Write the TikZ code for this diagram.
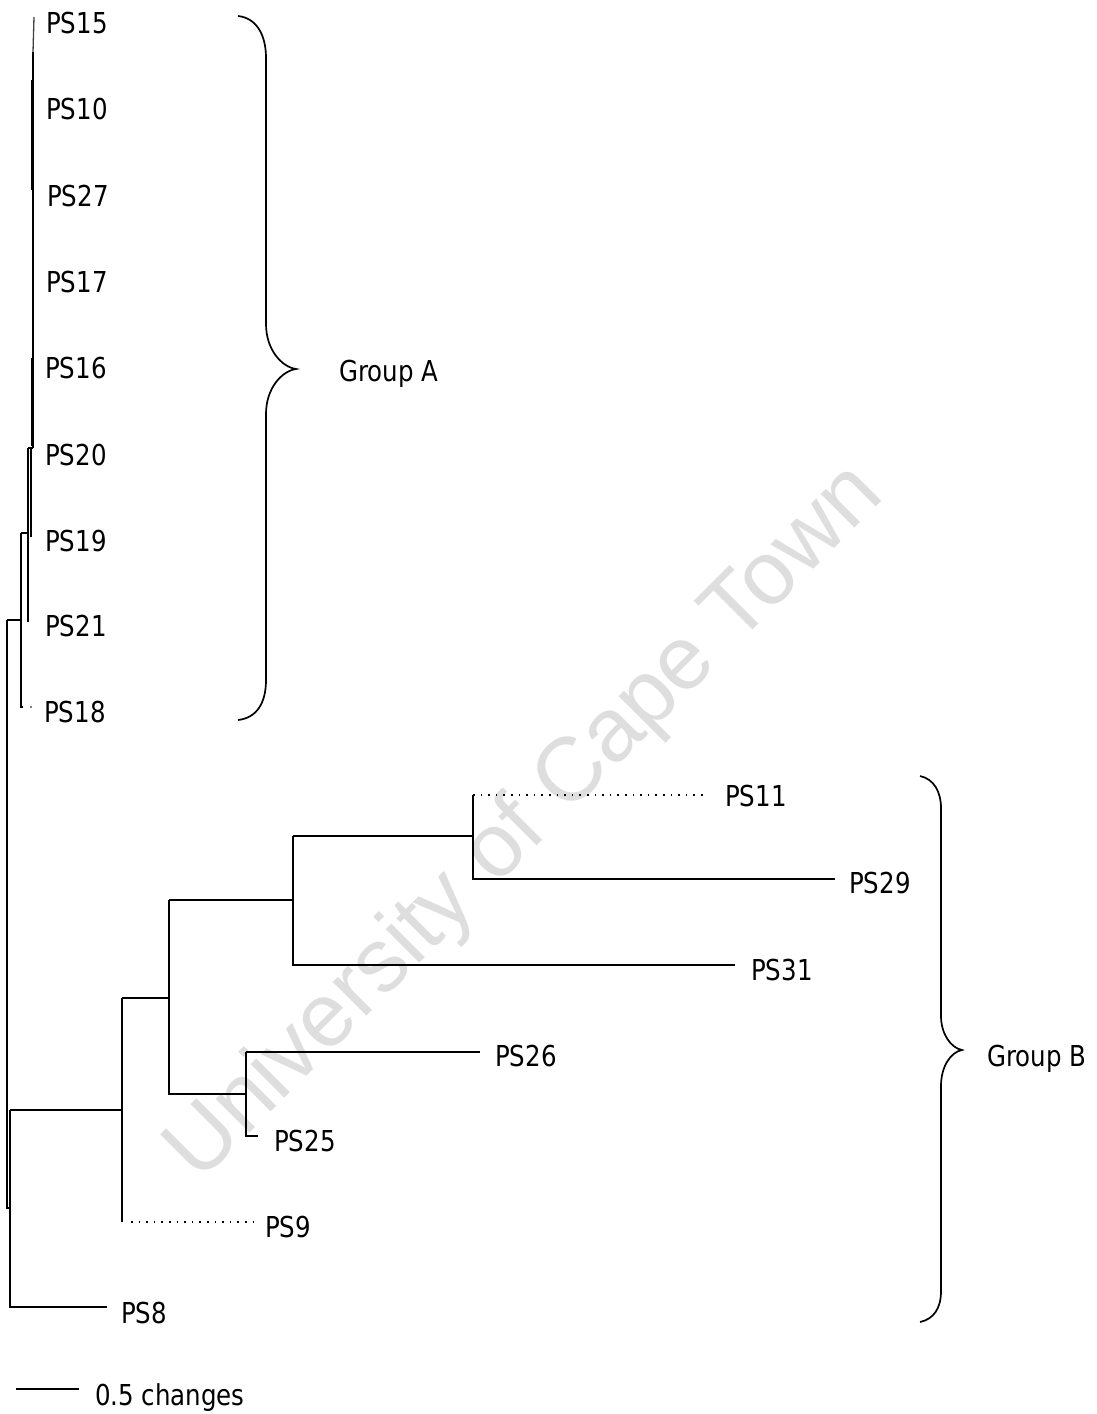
\documentclass[tikz,border=0pt]{standalone}
\usepackage{fontspec}
\setmainfont[FakeStretch=0.85]{DejaVu Sans}
\newfontfamily\wmfont{Liberation Sans}
\begin{document}
\begin{tikzpicture}[x=1pt,y=-1pt,
  br/.style={line width=1.7pt},
  dotbr/.style={line width=1.5pt, dash pattern=on 1.5pt off 6.1pt},
  bracestyle/.style={line width=1.7pt},
  lab/.style={anchor=base west, inner sep=0pt, font=\fontsize{28.8}{34}\selectfont}]
\useasboundingbox (0,0) rectangle (1097,1414);
\fill[white] (0,0) rectangle (1097,1414);
% watermark
\node[rotate=45, text=black!13, font=\wmfont\fontsize{90}{94}\selectfont, inner sep=0pt] (wm) at (526,824) {University of Cape Town};

% ---------- coordinates ----------
\coordinate (rt) at (7,914);
% group A
\coordinate (a1) at (21,620);
\coordinate (a2) at (28,533);
\coordinate (a3) at (33,448);
\coordinate (a4) at (31,448);
\coordinate (t15) at (34,17);
\coordinate (t10) at (33,52);
\coordinate (t19) at (31,537);
\coordinate (t21) at (28,622);
\coordinate (t18) at (23,707);
% group B
\coordinate (c1) at (473,836);
\coordinate (c2) at (293,900);
\coordinate (c3) at (246,1094);
\coordinate (c4) at (169,998);
\coordinate (c5) at (122,1110);
\coordinate (c6) at (10,1208);
\coordinate (t11) at (708,795);
\coordinate (t29) at (835,879);
\coordinate (t31) at (735,965);
\coordinate (t26) at (480,1052);
\coordinate (t25) at (258,1136);
\coordinate (t9s) at (131,1222);
\coordinate (t9) at (255,1222);
\coordinate (t8) at (107,1307);

% ---------- labels ----------
\node[lab] (PS15) at (46,33) {PS15};
\node[lab] (PS10) at (46,119) {PS10};
\node[lab] (PS27) at (47,206) {PS27};
\node[lab] (PS17) at (46,292) {PS17};
\node[lab] (PS16) at (45,378) {PS16};
\node[lab] (PS20) at (45,465) {PS20};
\node[lab] (PS19) at (45,551) {PS19};
\node[lab] (PS21) at (45,636) {PS21};
\node[lab] (PS18) at (44,722) {PS18};
\node[lab] (PS11) at (725,806) {PS11};
\node[lab] (PS29) at (849,893) {PS29};
\node[lab] (PS31) at (751,980) {PS31};
\node[lab] (PS26) at (495,1066) {PS26};
\node[lab] (PS25) at (274,1151) {PS25};
\node[lab] (PS9) at (265,1237) {PS9};
\node[lab] (PS8) at (121,1323) {PS8};
\node[lab] (GA) at (339,381) {Group A};
\node[lab] (GB) at (987,1066) {Group B};
\node[lab] (scl) at (95,1405) {0.5 changes};
\coordinate (s1) at (16,1389);
\coordinate (s2) at (79,1389);
\draw[br] (s1) -- (s2);

% ---------- group A branches ----------
\draw[br] (rt |- a1) -- (a1);
\draw[br] (a1 |- a2) -- (a1 |- t18) -- (t18);
\fill (31,707) circle (0.8pt);
\draw[br] (a1 |- a2) -- (a2);
\draw[br] (a2 |- a3) -- (a2 |- t21);
\draw[br] (a2 |- a3) -- (a3);
\draw[br] (a4) -- (t19);
\draw[br] (a3) -- (t10);
\draw[line width=1.3pt, black!75] (t10) -- (t15);
\draw[line width=1.8pt] (32.2,80) -- (32.2,190);
\draw[line width=1.8pt] (32.2,358) -- (32.2,446);

% ---------- group B branches ----------
\draw[br] (rt |- a1) -- (rt |- c6) -- (c6);
\draw[br] (c6 |- c5) -- (c6 |- t8) -- (t8);
\draw[br] (c6 |- c5) -- (c5);
\draw[br] (c5 |- c4) -- (c5 |- t9);
\draw[dotbr] (t9s) -- (t9);
\draw[br] (c5 |- c4) -- (c4);
\draw[br] (c4 |- c2) -- (c4 |- c3) -- (c3);
\draw[br] (c3 |- t26) -- (c3 |- t25) -- (t25);
\draw[br] (c3 |- t26) -- (t26);
\draw[br] (c4 |- c2) -- (c2);
\draw[br] (c2 |- c1) -- (c2 |- t31) -- (t31);
\draw[br] (c2 |- c1) -- (c1);
\draw[br] (c1 |- t11) -- (c1 |- t29) -- (t29);
\draw[dotbr] (c1 |- t11) -- (t11);

% ---------- braces ----------
\coordinate (bA1) at (238,16);
\coordinate (bAt) at (296,369);
\coordinate (bA2) at (238,720);
\draw[bracestyle] (bA1) .. controls (256,18) and (266,34) .. (266,58) -- (266,324)
  .. controls (266,350) and (282,367) .. (bAt)
  .. controls (282,371) and (266,388) .. (266,414) -- (266,680)
  .. controls (266,704) and (256,718) .. (bA2);
\coordinate (bB1) at (920,776);
\coordinate (bBt) at (962,1050);
\coordinate (bB2) at (920,1322);
\draw[bracestyle] (bB1) .. controls (934,779) and (941,792) .. (941,808) -- (941,1016)
  .. controls (941,1034) and (951,1048) .. (bBt)
  .. controls (951,1052) and (941,1066) .. (941,1086) -- (941,1291)
  .. controls (941,1308) and (934,1319) .. (bB2);
\end{tikzpicture}
\end{document}
